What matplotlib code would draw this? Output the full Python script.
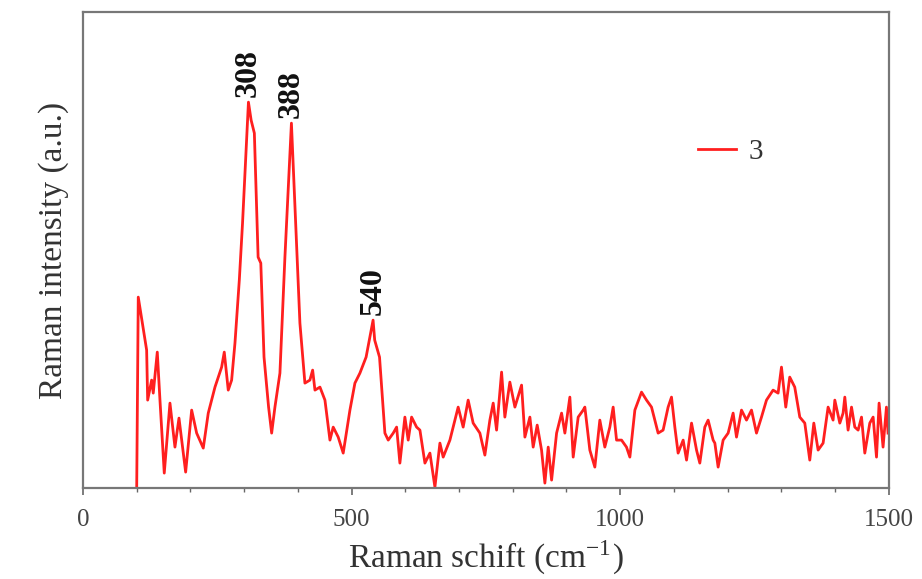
import numpy as np
import matplotlib
matplotlib.use("Agg")
from matplotlib import pyplot as plt

plt.rcParams['font.family'] = ['Liberation Serif', 'DejaVu Serif']
plt.rcParams['mathtext.fontset'] = 'stix'

# Raman spectrum, sample 3 (shift in cm^-1, intensity in a.u.)
shift = [100, 102.9, 118.5, 120.4, 127.8, 130.8, 138.3, 143.3, 151.3, 161.9,
         171.2, 178.7, 191.1, 202.3, 211.6, 223.9, 233.2, 245.7, 258.1, 263,
         270.4, 276.7, 282.9, 291, 297, 308, 313, 319, 326, 331,
         337, 345.5, 351.2, 357.3, 366.6, 375.9, 388, 392, 403.8, 413.1,
         422.4, 427.5, 431.8, 441.1, 450.4, 459.7, 465.8, 475.1, 484.4, 496.9,
         506.2, 515.5, 527, 540, 543, 552, 562, 568.2, 577.5, 583.8,
         589.9, 599.2, 605.4, 611.7, 621, 627.2, 636.5, 645.8, 655.1, 664.4,
         670.5, 683, 689, 698.4, 707.7, 717, 726.3, 738.8, 748.1, 757.4,
         763.6, 769.9, 779.2, 785.3, 794.6, 804, 816.4, 822.6, 831.9, 838,
         845.5, 853.6, 859.8, 866, 872.3, 881.6, 890.9, 897, 906.3, 912.5,
         921.8, 931.1, 934.2, 943.5, 952.8, 962.1, 971.4, 980.7, 986.9, 993.2,
         1002.5, 1011.7, 1018, 1027.3, 1039.7, 1049, 1058.3, 1070.6, 1079.9, 1089.2,
         1095.5, 1101.7, 1107.8, 1117.2, 1123.5, 1132.8, 1142.1, 1148.2, 1157.5, 1163.7,
         1173, 1176.2, 1182.3, 1191.6, 1200.9, 1210.2, 1216.5, 1225.8, 1235.1, 1244.4,
         1253.7, 1263, 1272.3, 1284.6, 1293.9, 1300.2, 1308.2, 1315.6, 1324.9, 1334.3,
         1343.6, 1352.9, 1360.4, 1368.4, 1377.7, 1387, 1396.3, 1399.5, 1408.8, 1414.9,
         1418.1, 1424.2, 1430.6, 1436.7, 1442.9, 1449.2, 1455.3, 1464.6, 1470.8, 1477.1,
         1481.9, 1489.3, 1495.6, 1498.6]
intensity = [0, 191, 138, 88, 108, 95, 136, 88, 15, 85,
             41, 70, 16, 78, 55, 40, 75, 101, 121, 136,
             98, 108, 145, 208, 265, 386, 368, 355, 231, 225,
             131, 81, 55, 81, 115, 231, 365, 315, 165, 105,
             108, 118, 98, 101, 88, 48, 61, 51, 35, 78,
             105, 115, 131, 168, 148, 131, 55, 48, 55, 61,
             25, 71, 48, 71, 61, 58, 25, 35, 1, 45,
             31, 48, 61, 81, 61, 88, 65, 55, 33, 68,
             85, 58, 116, 71, 106, 81, 103, 51, 71, 41,
             63, 38, 5, 41, 8, 55, 75, 55, 91, 31,
             71, 78, 81, 38, 21, 68, 41, 61, 81, 48,
             48, 41, 31, 78, 96, 88, 81, 55, 58, 81,
             91, 61, 35, 48, 28, 65, 38, 25, 61, 68,
             48, 45, 21, 48, 55, 75, 51, 78, 68, 78,
             55, 71, 88, 98, 95, 121, 81, 111, 101, 71,
             65, 28, 65, 38, 45, 81, 68, 88, 65, 75,
             91, 58, 81, 61, 58, 71, 35, 65, 71, 31,
             85, 41, 81, 55]

peak_labels = [308, 388, 540]
peak_heights = [386, 365, 168]

fig = plt.figure(figsize=(9.22, 5.79), dpi=100)
ax = fig.add_axes([0.090, 0.157, 0.874, 0.822])

ax.plot(shift, intensity, color='#ff1f1f', lw=2.0, label='3')

for p, h in zip(peak_labels, peak_heights):
    ax.annotate(str(p), xy=(p, h), xytext=(0, 4), textcoords='offset points',
                rotation=90, ha='center', va='bottom',
                fontsize=23, fontweight='bold', color='#111111')

ax.set_xlim(0, 1500)
ax.set_ylim(0, 476)
ax.set_xticks([0, 500, 1000, 1500])
ax.set_xticks(np.arange(0, 1501, 100), minor=True)
ax.set_yticks([])
ax.tick_params(axis='x', which='major', direction='out', length=5, width=1.2,
               color='#666666', labelsize=18, labelcolor='#444444', pad=10)
ax.tick_params(axis='x', which='minor', direction='out', length=3, width=1,
               color='#666666')
for s in ax.spines.values():
    s.set_color('#777777')
    s.set_linewidth(1.6)

ax.set_xlabel(r'Raman schift (cm$^{\mathregular{-1}}$)', fontsize=24,
              color='#333333', labelpad=5)
ax.set_ylabel('Raman intensity (a.u.)', fontsize=24, color='#333333',
              labelpad=10)

ax.legend(loc='center left', bbox_to_anchor=(0.763, 0.706), frameon=False,
          borderpad=0, borderaxespad=0, handlelength=1.3, handletextpad=0.45,
          fontsize=21, labelcolor='#333333')

fig.savefig('out.png', dpi=100)
